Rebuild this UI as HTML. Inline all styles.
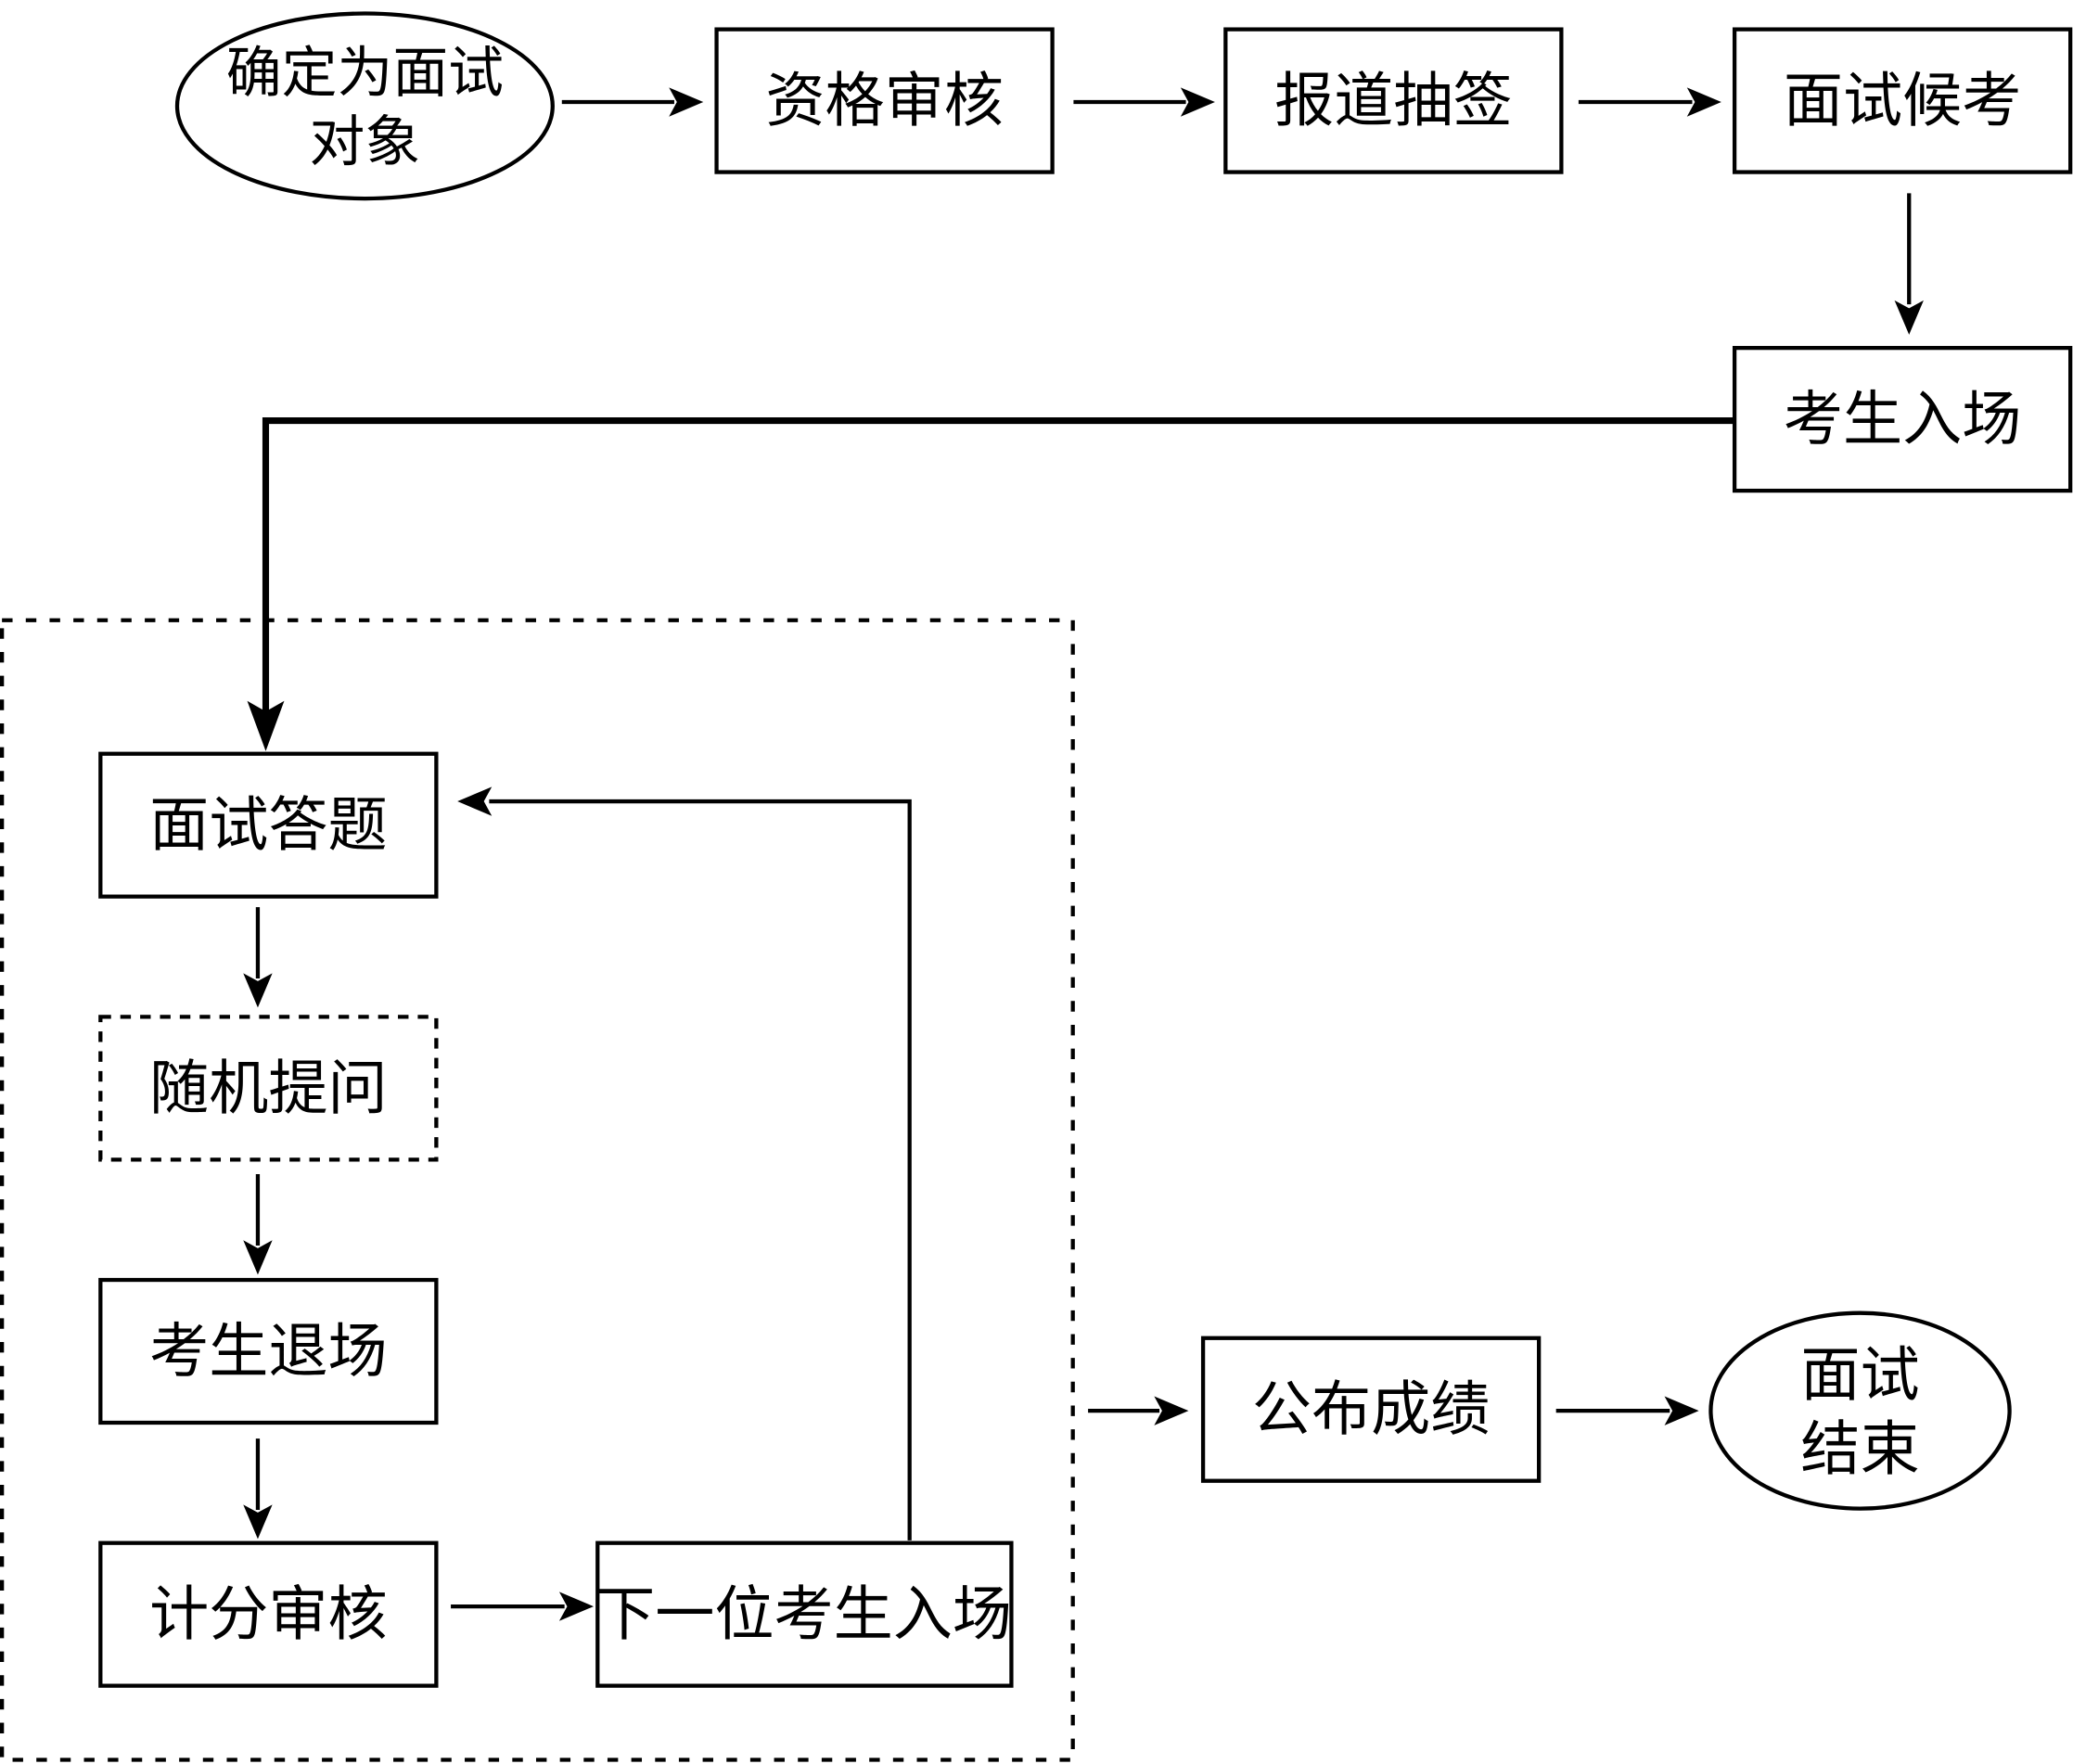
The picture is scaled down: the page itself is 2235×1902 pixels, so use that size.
<!DOCTYPE html>
<html><head><meta charset="utf-8"><style>
html,body{margin:0;padding:0;background:#fff;}
svg{display:block;}
text{font-family:"Liberation Sans","Noto Sans CJK SC",sans-serif;font-size:45px;fill:#000;text-anchor:middle;dominant-baseline:central;}
</style></head><body>
<svg width="2235" height="1902" viewBox="0 0 1568 1334" xmlns="http://www.w3.org/2000/svg">
<g fill="none" stroke="#000" stroke-width="3">
<ellipse cx="276" cy="80" rx="142" ry="70"/>
<rect x="542" y="22" width="254" height="108"/>
<rect x="927" y="22" width="254" height="108"/>
<rect x="1312" y="22" width="254" height="108"/>
<rect x="1312" y="263" width="254" height="108"/>
<rect x="1.5" y="469" width="810" height="862" stroke-dasharray="8,10"/>
<rect x="76" y="570" width="254" height="108"/>
<rect x="76" y="769" width="254" height="108" stroke-dasharray="8,7"/>
<rect x="76" y="968" width="254" height="108"/>
<rect x="76" y="1167" width="254" height="108"/>
<rect x="452" y="1167" width="313" height="108"/>
<rect x="910" y="1012" width="254" height="108"/>
<ellipse cx="1407" cy="1067" rx="113" ry="74"/>
<line x1="425" y1="77" x2="510" y2="77"/>
<line x1="812" y1="77" x2="897" y2="77"/>
<line x1="1194" y1="77" x2="1280" y2="77"/>
<line x1="1444" y1="146" x2="1444" y2="230"/>
<polyline points="1312,318 201,318 201,540" stroke-width="5"/>
<line x1="195" y1="686" x2="195" y2="740"/>
<line x1="195" y1="888" x2="195" y2="942"/>
<line x1="195" y1="1088" x2="195" y2="1142"/>
<line x1="341" y1="1215" x2="427" y2="1215"/>
<polyline points="688,1165 688,606 370,606"/>
<line x1="823" y1="1067" x2="877" y2="1067"/>
<line x1="1177" y1="1067" x2="1263" y2="1067"/>
</g>
<g fill="#000">
<polygon points="532,77 506,66 512,77 506,88"/>
<polygon points="919,77 893,66 899,77 893,88"/>
<polygon points="1302,77 1276,66 1282,77 1276,88"/>
<polygon points="1444,253 1433,227 1444,233 1455,227"/>
<polygon points="201,568 187,530 201,538 215,530"/>
<polygon points="195,762 184,736 195,742 206,736"/>
<polygon points="195,964 184,938 195,944 206,938"/>
<polygon points="195,1164 184,1138 195,1144 206,1138"/>
<polygon points="449,1215 423,1204 429,1215 423,1226"/>
<polygon points="346,606 372,595 366,606 372,617"/>
<polygon points="899,1067 873,1056 879,1067 873,1078"/>
<polygon points="1285,1067 1259,1056 1265,1067 1259,1078"/>
</g>
<text x="276" y="55" style="font-size:42px">确定为面试</text>
<text x="276" y="107" style="font-size:42px">对象</text>
<text x="669" y="76">资格审核</text>
<text x="1054" y="76">报道抽签</text>
<text x="1439" y="76">面试候考</text>
<text x="1439" y="317">考生入场</text>
<text x="203" y="624">面试答题</text>
<text x="203" y="823">随机提问</text>
<text x="203" y="1022">考生退场</text>
<text x="203" y="1221">计分审核</text>
<text x="608" y="1221">下一位考生入场</text>
<text x="1037" y="1066">公布成绩</text>
<text x="1407" y="1040">面试</text>
<text x="1407" y="1096">结束</text>
</svg>
</body></html>
